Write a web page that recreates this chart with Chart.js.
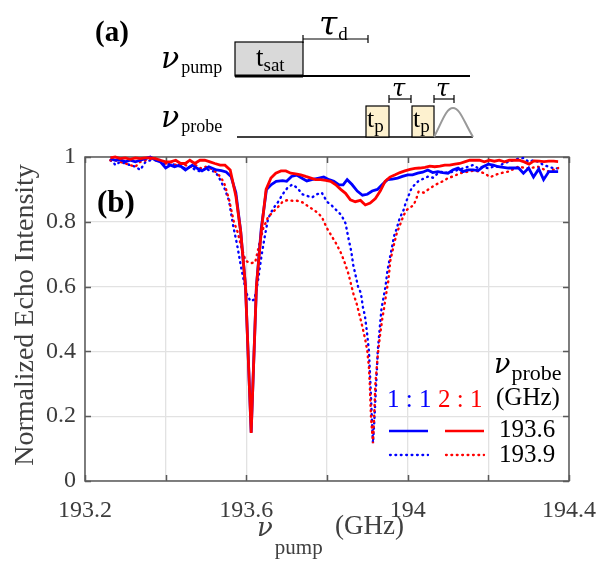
<!DOCTYPE html>
<html>
<head>
<meta charset="utf-8">
<script src="https://cdn.jsdelivr.net/npm/chart.js@4.4.1/dist/chart.umd.min.js"></script>
<style>
  html, body { margin: 0; padding: 0; background: #fff; }
  #wrap { position: relative; width: 611px; height: 563px; overflow: hidden; }
  #c { position: absolute; left: 0; top: 0; }
  #ov { position: absolute; left: 0; top: 0; pointer-events: none; }
  #ov text { font-family: "Liberation Serif", "Times New Roman", serif; }
  #ov .gk { font-family: "DejaVu Serif", serif; font-style: italic; }
</style>
</head>
<body>
<div id="wrap">
<canvas id="c" width="611" height="563"></canvas>
<svg id="ov" width="611" height="563" xmlns="http://www.w3.org/2000/svg">
  <!-- (a) pulse sequence -->
  <text x="95" y="41" font-size="29" font-weight="bold" fill="#000">(a)</text>
  <text x="161" y="68" fill="#000"><tspan class="gk" font-size="30">ν</tspan><tspan font-size="18" dx="2" dy="5">pump</tspan></text>
  <rect x="235" y="42" width="68" height="34" fill="#d9d9d9" stroke="#000" stroke-width="1.2"/>
  <line x1="235" y1="76" x2="470" y2="76" stroke="#000" stroke-width="2"/>
  <line x1="235" y1="76" x2="303" y2="76" stroke="#000" stroke-width="3"/>
  <text x="256" y="66" fill="#000"><tspan font-size="27">t</tspan><tspan font-size="19" dy="5">sat</tspan></text>
  <line x1="303" y1="39" x2="368" y2="39" stroke="#000" stroke-width="1.2"/>
  <line x1="303" y1="35" x2="303" y2="43" stroke="#000" stroke-width="1.2"/>
  <line x1="368" y1="35" x2="368" y2="43" stroke="#000" stroke-width="1.2"/>
  <text x="319" y="35" fill="#000"><tspan class="gk" font-size="33">τ</tspan><tspan font-size="19" dx="1" dy="5">d</tspan></text>

  <text x="161" y="127" fill="#000"><tspan class="gk" font-size="30">ν</tspan><tspan font-size="18" dx="2" dy="5">probe</tspan></text>
  <line x1="237" y1="137" x2="473" y2="137" stroke="#000" stroke-width="1.6"/>
  <rect x="366" y="106" width="23" height="31" fill="#fdf1cf" stroke="#000" stroke-width="1.2"/>
  <rect x="412" y="106" width="22" height="31" fill="#fdf1cf" stroke="#000" stroke-width="1.2"/>
  <text x="367" y="127" fill="#000"><tspan font-size="26">t</tspan><tspan font-size="19" dy="5">p</tspan></text>
  <text x="413" y="127" fill="#000"><tspan font-size="26">t</tspan><tspan font-size="19" dy="5">p</tspan></text>
  <line x1="389" y1="99" x2="411" y2="99" stroke="#000" stroke-width="1.2"/>
  <line x1="389" y1="95" x2="389" y2="103" stroke="#000" stroke-width="1.2"/>
  <line x1="411" y1="95" x2="411" y2="103" stroke="#000" stroke-width="1.2"/>
  <text x="392" y="96" class="gk" font-size="24" fill="#000">τ</text>
  <line x1="434" y1="99" x2="454" y2="99" stroke="#000" stroke-width="1.2"/>
  <line x1="434" y1="95" x2="434" y2="103" stroke="#000" stroke-width="1.2"/>
  <line x1="454" y1="95" x2="454" y2="103" stroke="#000" stroke-width="1.2"/>
  <text x="436" y="96" class="gk" font-size="24" fill="#000">τ</text>
  <path d="M434,137 C442,122 446,108 453,108 C460,108 464,122 473,137" fill="none" stroke="#999" stroke-width="2"/>

  <!-- (b) label -->
  <text x="97" y="212" font-size="31" font-weight="bold" fill="#000">(b)</text>

  <!-- legend matrix -->
  <text x="494" y="373" fill="#000"><tspan class="gk" font-size="27">ν</tspan><tspan font-size="22" dx="1" dy="7">probe</tspan></text>
  <text x="496" y="405" font-size="25" fill="#000">(GHz)</text>
  <text x="387" y="407" font-size="25" fill="#0000ff">1 : 1</text>
  <text x="438" y="407" font-size="25" fill="#ff0000">2 : 1</text>
  <line x1="389" y1="431" x2="428" y2="431" stroke="#0000ff" stroke-width="2.6"/>
  <line x1="445" y1="431" x2="484" y2="431" stroke="#ff0000" stroke-width="2.6"/>
  <line x1="390" y1="455" x2="428" y2="455" stroke="#0000ff" stroke-width="2.3" stroke-linecap="round" stroke-dasharray="0.8,4.6"/>
  <line x1="446" y1="455" x2="484" y2="455" stroke="#ff0000" stroke-width="2.3" stroke-linecap="round" stroke-dasharray="0.8,4.6"/>
  <text x="499" y="437" font-size="25" fill="#000">193.6</text>
  <text x="499" y="462" font-size="25" fill="#000">193.9</text>

  <!-- axis titles -->
  <text transform="translate(33,315) rotate(-90)" text-anchor="middle" font-size="28" fill="#404040">Normalized Echo Intensity</text>
  <text x="257" y="536" fill="#404040"><tspan class="gk" font-size="26">ν</tspan><tspan font-size="21" dx="2" dy="18">pump</tspan></text>
  <text x="335" y="534" font-size="27" fill="#404040">(GHz)</text>
</svg>
</div>
<script>
// ---- data ----
// pump frequency (GHz) and normalized echo intensity
// 1:1 ratio, probe 193.6 GHz (blue solid)
const freq11_6 = [193.263,193.275,193.287,193.300,193.312,193.325,193.337,193.350,193.362,193.375,
  193.387,193.400,193.412,193.422,193.434,193.449,193.466,193.478,193.490,193.507,
  193.526,193.538,193.550,193.562,193.574,193.586,193.598,193.612,193.625,193.637,
  193.650,193.662,193.674,193.690,193.700,193.712,193.725,193.737,193.750,193.762,
  193.780,193.792,193.805,193.817,193.830,193.840,193.850,193.862,193.875,193.888,
  193.900,193.912,193.925,193.937,193.950,193.962,193.975,193.987,194.000,194.012,
  194.025,194.037,194.050,194.062,194.075,194.087,194.100,194.112,194.125,194.137,
  194.150,194.162,194.175,194.187,194.200,194.212,194.225,194.237,194.250,194.262,
  194.275,194.287,194.300,194.312,194.325,194.337,194.350,194.362,194.373];
const echo11_6 = [0.995,0.99,0.992,0.985,0.99,0.985,0.99,0.995,1.0,0.99,
  0.985,0.966,0.975,0.97,0.975,0.96,0.975,0.965,0.957,0.97,
  0.96,0.958,0.954,0.94,0.89,0.77,0.6,0.15,0.6,0.78,
  0.9,0.915,0.925,0.927,0.925,0.94,0.944,0.935,0.926,0.93,
  0.935,0.938,0.93,0.925,0.914,0.914,0.93,0.915,0.895,0.882,
  0.885,0.895,0.9,0.915,0.93,0.932,0.935,0.94,0.945,0.945,
  0.95,0.953,0.96,0.952,0.955,0.952,0.95,0.96,0.966,0.955,
  0.96,0.96,0.958,0.97,0.978,0.975,0.97,0.968,0.966,0.966,
  0.966,0.95,0.966,0.938,0.963,0.93,0.955,0.955,0.955];

// 2:1 ratio, probe 193.6 GHz (red solid)
const freq21_6 = [193.263,193.275,193.287,193.300,193.312,193.325,193.337,193.350,193.362,193.375,
  193.387,193.400,193.412,193.425,193.437,193.449,193.460,193.472,193.485,193.497,
  193.510,193.522,193.535,193.547,193.560,193.574,193.586,193.598,193.612,193.625,
  193.637,193.649,193.661,193.673,193.686,193.698,193.710,193.722,193.735,193.747,
  193.760,193.772,193.784,193.797,193.809,193.821,193.834,193.846,193.858,193.870,
  193.883,193.895,193.907,193.920,193.932,193.944,193.956,193.969,193.981,193.993,
  194.006,194.018,194.030,194.043,194.055,194.067,194.080,194.092,194.104,194.117,
  194.129,194.141,194.154,194.166,194.178,194.190,194.203,194.215,194.227,194.240,
  194.252,194.264,194.276,194.289,194.301,194.313,194.326,194.338,194.350,194.362,
  194.373];
const echo21_6 = [0.997,1.0,0.995,0.997,0.993,0.997,0.995,0.997,0.997,0.995,
  0.99,0.985,0.985,0.99,0.98,0.98,0.99,0.98,0.99,0.99,
  0.985,0.98,0.975,0.975,0.96,0.88,0.77,0.6,0.148,0.6,
  0.77,0.9,0.935,0.95,0.957,0.957,0.95,0.948,0.945,0.94,
  0.935,0.93,0.93,0.928,0.925,0.915,0.9,0.888,0.868,0.862,
  0.866,0.852,0.858,0.872,0.895,0.925,0.938,0.945,0.952,0.957,
  0.962,0.965,0.966,0.968,0.972,0.97,0.972,0.975,0.975,0.978,
  0.98,0.985,0.99,0.99,0.99,0.985,0.99,0.987,0.99,0.985,
  0.99,0.99,0.99,0.985,0.978,0.988,0.987,0.986,0.987,0.987,
  0.986];

// 1:1 ratio, probe 193.9 GHz (blue dotted)
const freq11_9 = [193.263,193.270,193.275,193.287,193.300,193.312,193.325,193.337,193.350,193.362,
  193.375,193.387,193.400,193.412,193.425,193.437,193.449,193.462,193.474,193.487,
  193.499,193.511,193.523,193.535,193.547,193.557,193.567,193.577,193.587,193.600,
  193.610,193.620,193.628,193.637,193.645,193.654,193.666,193.678,193.690,193.702,
  193.714,193.726,193.739,193.751,193.763,193.775,193.787,193.800,193.812,193.824,
  193.836,193.846,193.853,193.860,193.865,193.870,193.877,193.884,193.889,193.894,
  193.899,193.904,193.908,193.911,193.914,193.918,193.921,193.924,193.926,193.931,
  193.935,193.940,193.945,193.950,193.956,193.961,193.966,193.973,193.980,193.990,
  193.995,194.003,194.010,194.027,194.051,194.063,194.075,194.087,194.100,194.112,
  194.125,194.137,194.150,194.162,194.175,194.187,194.200,194.212,194.225,194.237,
  194.250,194.262,194.275,194.287,194.300,194.312,194.325,194.337,194.350,194.362,
  194.373];
const echo11_9 = [0.99,0.985,0.975,0.985,0.98,0.975,0.97,0.96,0.985,0.99,
  0.995,0.99,0.975,0.98,0.975,0.97,0.965,0.97,0.96,0.955,
  0.965,0.957,0.955,0.93,0.9,0.865,0.79,0.73,0.66,0.58,
  0.555,0.56,0.61,0.69,0.75,0.81,0.84,0.86,0.885,0.905,
  0.915,0.905,0.885,0.88,0.875,0.885,0.89,0.862,0.85,0.835,
  0.82,0.795,0.75,0.71,0.667,0.64,0.6,0.58,0.537,0.51,
  0.46,0.40,0.29,0.2,0.117,0.2,0.28,0.35,0.404,0.475,
  0.53,0.565,0.6,0.65,0.69,0.72,0.755,0.78,0.81,0.837,
  0.858,0.883,0.905,0.926,0.94,0.936,0.95,0.955,0.95,0.955,
  0.96,0.965,0.97,0.975,0.965,0.97,0.965,0.97,0.97,0.98,
  0.985,0.99,0.995,0.997,0.985,0.99,0.985,0.975,0.97,0.965,
  0.965];

// 2:1 ratio, probe 193.9 GHz (red dotted)
const freq21_9 = [193.263,193.275,193.287,193.300,193.312,193.325,193.337,193.350,193.362,193.375,
  193.387,193.400,193.412,193.425,193.437,193.449,193.462,193.474,193.487,193.499,
  193.511,193.523,193.535,193.545,193.557,193.569,193.578,193.586,193.598,193.610,
  193.622,193.632,193.642,193.654,193.666,193.678,193.690,193.702,193.714,193.726,
  193.739,193.751,193.763,193.775,193.787,193.800,193.812,193.824,193.836,193.845,
  193.853,193.860,193.866,193.873,193.881,193.888,193.895,193.900,193.904,193.906,
  193.909,193.914,193.917,193.920,193.926,193.931,193.937,193.942,193.947,193.952,
  193.957,193.966,193.973,193.980,193.990,193.998,194.015,194.022,194.027,194.040,
  194.057,194.070,194.087,194.100,194.112,194.130,194.150,194.165,194.178,194.190,
  194.205,194.218,194.230,194.250,194.274,194.300,194.323,194.350,194.373];
const echo21_9 = [0.99,0.99,0.985,0.98,0.975,0.97,0.985,0.99,0.995,0.99,
  0.985,0.98,0.985,0.975,0.98,0.975,0.97,0.975,0.965,0.97,
  0.965,0.955,0.94,0.92,0.87,0.8,0.77,0.73,0.68,0.672,
  0.675,0.73,0.78,0.815,0.83,0.845,0.862,0.867,0.865,0.865,
  0.86,0.85,0.84,0.83,0.815,0.78,0.755,0.73,0.7,0.67,
  0.64,0.605,0.575,0.55,0.51,0.475,0.435,0.4,0.35,0.3,
  0.2,0.117,0.2,0.3,0.39,0.445,0.5,0.537,0.58,0.617,
  0.68,0.73,0.765,0.787,0.82,0.837,0.852,0.873,0.893,0.89,
  0.905,0.915,0.925,0.935,0.94,0.95,0.955,0.958,0.955,0.95,
  0.938,0.945,0.95,0.955,0.97,0.965,0.97,0.955,0.966];

// axis tick labels
const xTickLabels = ['193.2', '193.6', '194', '194.4'];
const yTickLabels = ['0', '0.2', '0.4', '0.6', '0.8', '1'];

function pts(f, v) { return f.map((x, i) => ({ x: x, y: v[i] })); }

const framePlugin = {
  id: 'frame',
  beforeDatasetsDraw(chart) {
    const { ctx, chartArea: a, scales: { x, y } } = chart;
    ctx.save();
    ctx.strokeStyle = '#5a5a5a';
    ctx.lineWidth = 1.5;
    ctx.strokeRect(a.left, a.top, a.right - a.left, a.bottom - a.top);
    ctx.beginPath();
    x.ticks.forEach(t => {
      const px = Math.round(x.getPixelForValue(t.value)) + 0.5;
      ctx.moveTo(px, a.bottom); ctx.lineTo(px, a.bottom - 6);
      ctx.moveTo(px, a.top); ctx.lineTo(px, a.top + 6);
    });
    y.ticks.forEach(t => {
      const py = Math.round(y.getPixelForValue(t.value)) + 0.5;
      ctx.moveTo(a.left, py); ctx.lineTo(a.left + 6, py);
      ctx.moveTo(a.right, py); ctx.lineTo(a.right - 6, py);
    });
    ctx.stroke();
    ctx.restore();
  }
};

const tickFont = { family: '"Liberation Serif", "Times New Roman", serif', size: 24 };
const dotted = { borderWidth: 2.4, borderDash: [0.8, 4.6], borderCapStyle: 'round' };

new Chart(document.getElementById('c'), {
  type: 'line',
  data: {
    datasets: [
      { label: '2:1, 193.6 GHz', data: pts(freq21_6, echo21_6), borderColor: '#ff0000', borderWidth: 2.8, pointRadius: 0, tension: 0, fill: false, clip: 6 },
      { label: '1:1, 193.6 GHz', data: pts(freq11_6, echo11_6), borderColor: '#0000ff', borderWidth: 2.8, pointRadius: 0, tension: 0, fill: false, clip: 6 },
      Object.assign({ label: '2:1, 193.9 GHz', data: pts(freq21_9, echo21_9), borderColor: '#ff0000', pointRadius: 0, tension: 0, fill: false, clip: 6 }, dotted),
      Object.assign({ label: '1:1, 193.9 GHz', data: pts(freq11_9, echo11_9), borderColor: '#0000ff', pointRadius: 0, tension: 0, fill: false, clip: 6 }, dotted)
    ]
  },
  options: {
    responsive: false,
    animation: false,
    layout: { padding: { left: 25, right: 29, top: 157, bottom: 42 } },
    plugins: { legend: { display: false }, tooltip: { enabled: false }, title: { display: false } },
    scales: {
      x: {
        type: 'linear', min: 193.2, max: 194.4,
        afterFit(s) { s.height = 40; },
        border: { display: false },
        grid: { color: '#e2e2e2', lineWidth: 1.3, drawTicks: false },
        ticks: {
          stepSize: 0.2, padding: 15, color: '#3c3c3c', font: tickFont, maxRotation: 0, autoSkip: false,
          callback(value, index) { return index % 2 === 0 ? xTickLabels[index / 2] : ''; }
        }
      },
      y: {
        min: 0, max: 1,
        afterFit(s) { s.width = 60; },
        border: { display: false },
        grid: { color: '#e2e2e2', lineWidth: 1.3, drawTicks: false },
        ticks: {
          stepSize: 0.2, padding: 9, color: '#3c3c3c', font: tickFont,
          callback(value, index) { return yTickLabels[index]; }
        }
      }
    }
  },
  plugins: [framePlugin]
});
</script>
</body>
</html>
